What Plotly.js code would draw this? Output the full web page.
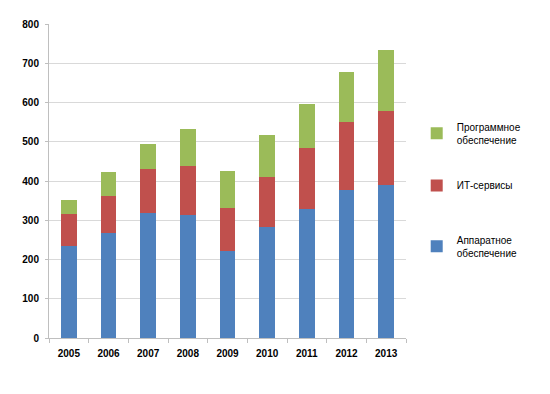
<!DOCTYPE html>
<html>
<head>
<meta charset="utf-8">
<script src="https://cdn.plot.ly/plotly-3.0.1.min.js"></script>
<style>html,body{margin:0;padding:0;background:#fff;}#chart{width:550px;height:394px;}</style>
</head>
<body>
<div id="chart"></div>
<script>
const years = ['2005','2006','2007','2008','2009','2010','2011','2012','2013'];
const hardware = [234, 268, 319, 314, 221, 284, 329, 378, 391];
const itServices = [81, 94, 112, 124, 111, 125, 156, 173, 188];
const software = [37, 62, 64, 95, 94, 109, 110, 127, 156];
const yTicks = [0, 100, 200, 300, 400, 500, 600, 700, 800];

const names = ['Аппаратное<br>обеспечение', 'ИТ-сервисы', 'Программное<br>обеспечение'];
const colors = ['#4F81BD', '#C0504D', '#9BBB59'];
const series = [hardware, itServices, software];
const legends = ['legend3', 'legend2', 'legend'];

const traces = series.map((vals, i) => ({
  type: 'bar',
  x: years,
  y: vals,
  name: names[i],
  legend: legends[i],
  marker: {color: colors[i], line: {width: 0}},
  hoverinfo: 'x+y+name'
}));

const legFont = {family: 'Liberation Sans, Arial, sans-serif', size: 10, color: '#000'};
function leg(y) {
  return {x: 1.03, xanchor: 'left', y: y, yanchor: 'middle', font: legFont,
          bgcolor: 'rgba(0,0,0,0)', itemwidth: 30, borderwidth: 0};
}

const layout = {
  width: 550, height: 394,
  margin: {l: 49, r: 143.5, t: 23.5, b: 56.3},
  paper_bgcolor: '#fff', plot_bgcolor: '#fff',
  barmode: 'stack',
  bargap: 0.6,
  showlegend: true,
  legend: leg(0.652),
  legend2: leg(0.486),
  legend3: leg(0.292),
  font: {family: 'Liberation Sans, Arial, sans-serif', color: '#000'},
  xaxis: {
    type: 'category',
    tickson: 'boundaries',
    ticks: 'outside', ticklen: 4, tickcolor: '#bfbfbf', tickwidth: 1,
    showline: true, linecolor: '#bfbfbf', linewidth: 1,
    showgrid: false, zeroline: false,
    tickfont: {family: 'Liberation Sans, Arial, sans-serif', size: 10, color: '#000', weight: 'bold'},
    ticklabelstandoff: 6
  },
  yaxis: {
    range: [0, 800],
    tickvals: yTicks,
    ticktext: yTicks.map(String),
    ticks: 'outside', ticklen: 3, tickcolor: '#bfbfbf', tickwidth: 1,
    showline: true, linecolor: '#bfbfbf', linewidth: 1,
    showgrid: true, gridcolor: '#d9d9d9', gridwidth: 1,
    zeroline: false,
    tickfont: {family: 'Liberation Sans, Arial, sans-serif', size: 10, color: '#000', weight: 'bold'},
    ticklabelstandoff: 4
  }
};

Plotly.newPlot('chart', traces, layout, {displayModeBar: false, staticPlot: true});
</script>
</body>
</html>
